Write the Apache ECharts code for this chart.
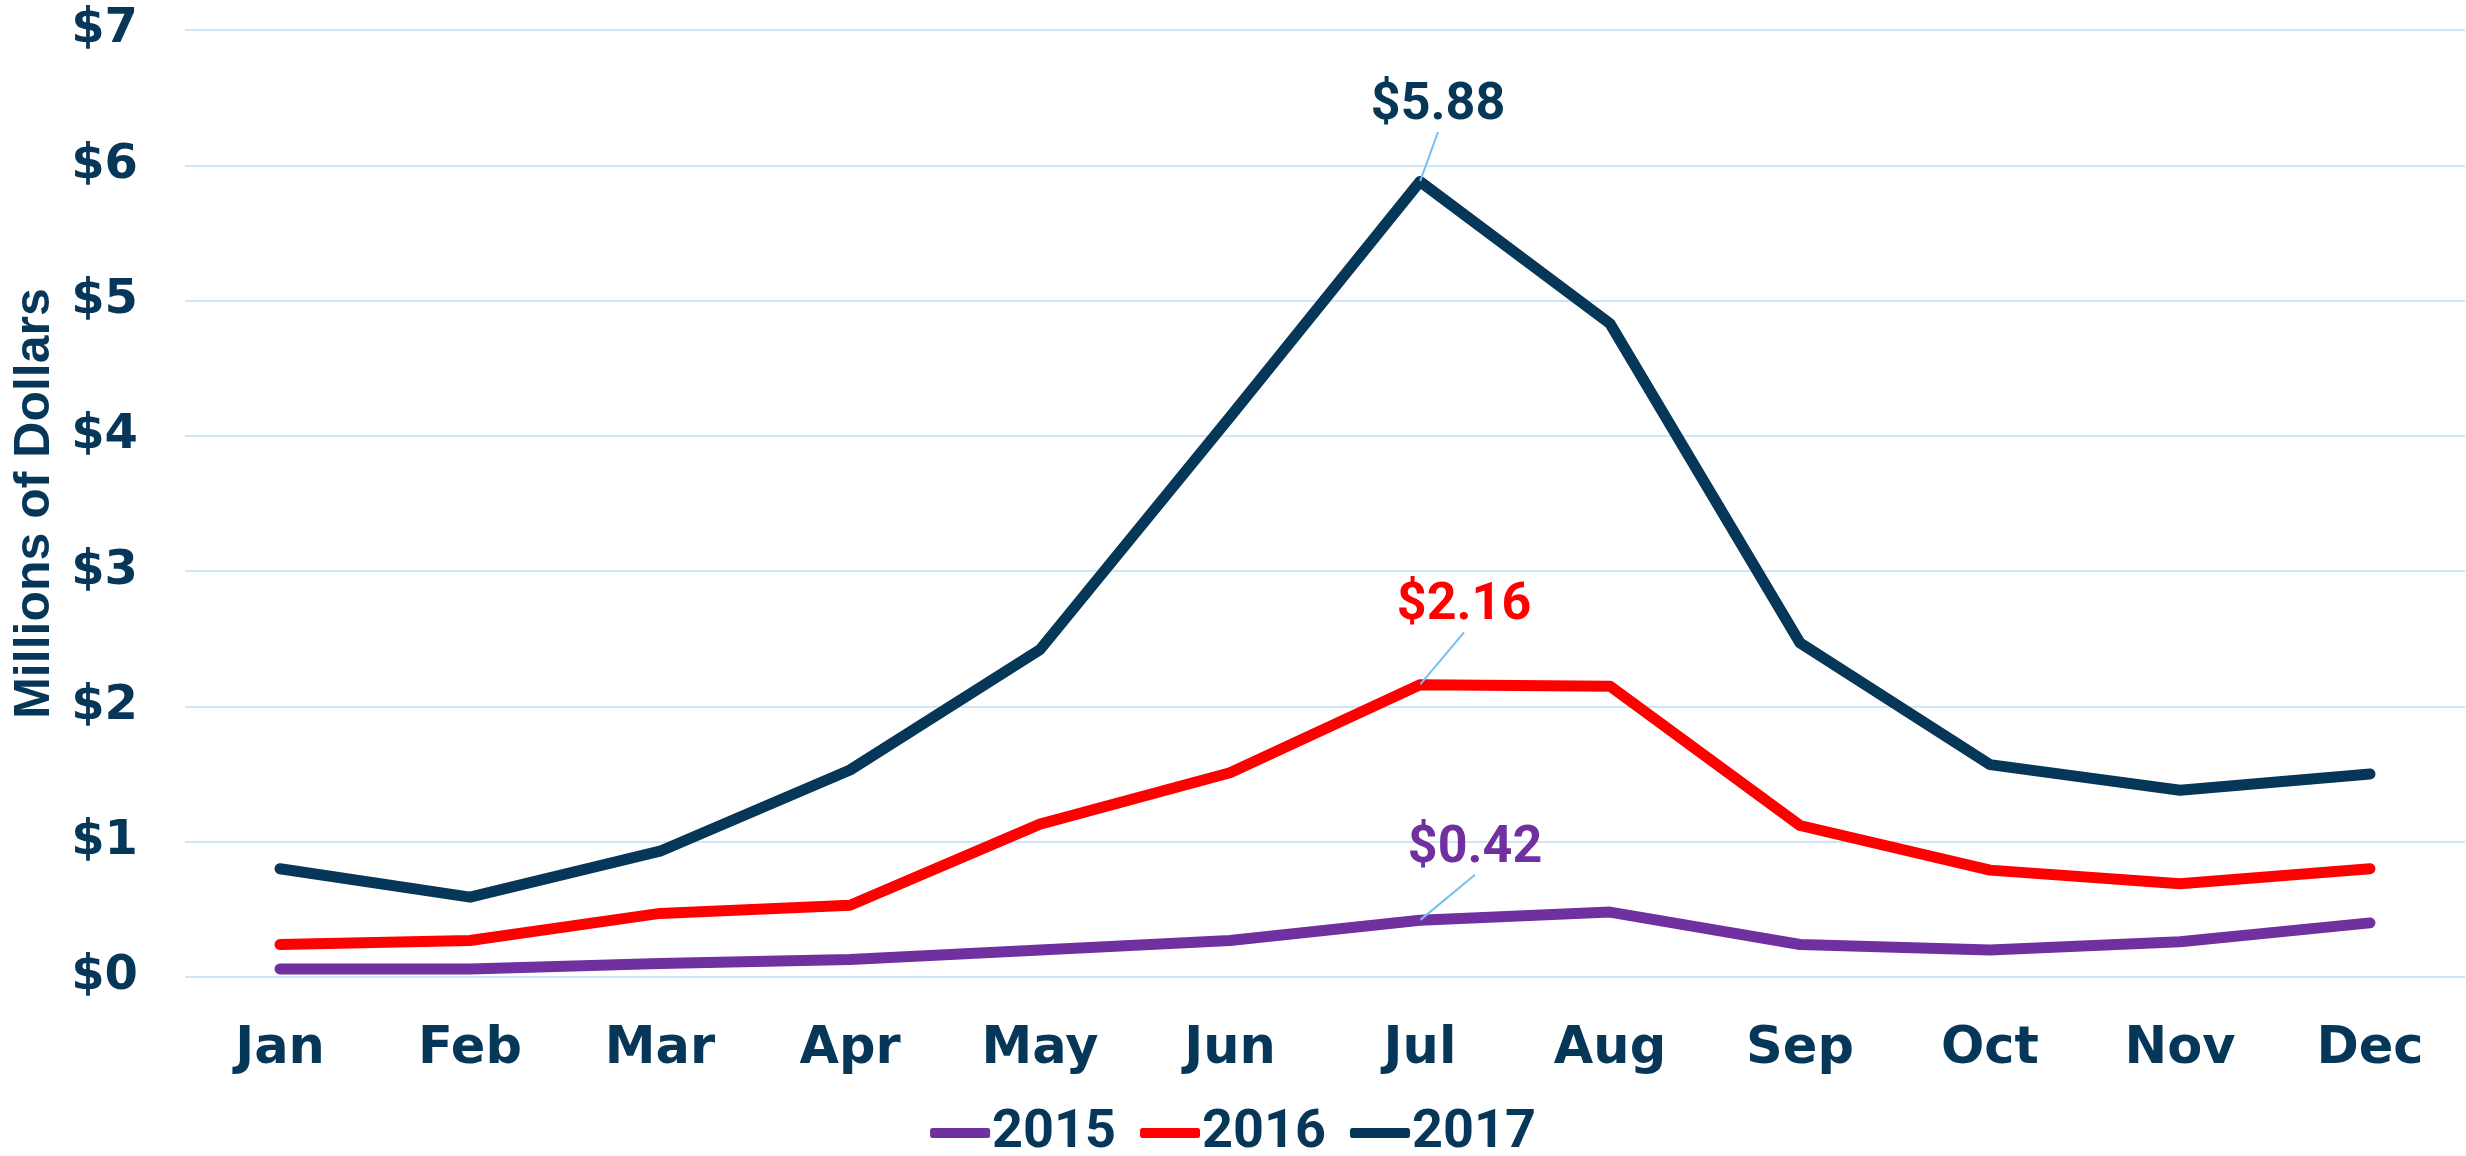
<!DOCTYPE html>
<html>
<head>
<meta charset="utf-8">
<script src="https://cdn.jsdelivr.net/npm/echarts@6/dist/echarts.min.js"></script>
<style>
  html, body { margin: 0; padding: 0; background: #fff; }
  #chart { width: 2466px; height: 1156px; }
</style>
</head>
<body>
<div id="chart"></div>
<script>
const months = ['Jan', 'Feb', 'Mar', 'Apr', 'May', 'Jun', 'Jul', 'Aug', 'Sep', 'Oct', 'Nov', 'Dec']
const sales2015 = [0.06, 0.06, 0.10, 0.13, 0.20, 0.27, 0.42, 0.48, 0.24, 0.20, 0.26, 0.40]
const sales2016 = [0.24, 0.27, 0.47, 0.53, 1.13, 1.51, 2.16, 2.15, 1.12, 0.79, 0.69, 0.80]
const sales2017 = [0.80, 0.59, 0.93, 1.53, 2.42, 4.14, 5.88, 4.83, 2.47, 1.57, 1.38, 1.50]
const peakIndex = 6

const navy = '#063758'
const colors = { '2015': '#7030a0', '2016': '#ff0000', '2017': navy }

// label offsets for the callouts at the July peak
const calloutShift = { '2015': [55, -40], '2016': [44, -47], '2017': [18, -44] }

const makeSeries = (name, values) => ({
  name,
  type: 'line',
  data: values.map((v, i) => i === peakIndex ? {
    value: v,
    label: {
      show: true,
      position: 'top',
      formatter: '$' + v.toFixed(2),
      color: colors[name],
      fontFamily: 'Roboto',
      fontWeight: 'bold',
      fontSize: 52
    },
    labelLine: { show: true, lineStyle: { color: '#74c0f2', width: 2 } }
  } : v),
  symbol: 'circle',
  symbolSize: 1,
  showSymbol: true,
  itemStyle: { color: colors[name] },
  lineStyle: { color: colors[name], width: 11, cap: 'round', join: 'round' },
  labelLayout: (p) => p.dataIndex === peakIndex
    ? { dx: calloutShift[name][0], dy: calloutShift[name][1] }
    : {},
  emphasis: { disabled: true },
  z: name === '2017' ? 3 : name === '2016' ? 2 : 1
})

const chart = echarts.init(document.getElementById('chart'), null, { renderer: 'canvas' })

chart.setOption({
  animation: false,
  backgroundColor: '#ffffff',
  grid: { left: 185, right: 1, top: 30, bottom: 179, outerBoundsMode: 'none' },
  legend: {
    top: 1101,
    left: 'center',
    icon: 'roundRect',
    itemWidth: 60,
    itemHeight: 10,
    itemGap: 24,
    textStyle: {
      color: navy,
      fontFamily: 'Roboto',
      fontWeight: 'bold',
      fontSize: 54,
      padding: [0, 0, 0, -3]
    },
    data: ['2015', '2016', '2017']
  },
  xAxis: {
    type: 'category',
    data: months,
    boundaryGap: true,
    axisLine: { show: false },
    axisTick: { show: false },
    axisLabel: {
      color: navy,
      fontFamily: 'DejaVu Sans',
      fontWeight: 'bold',
      fontSize: 51,
      margin: 47
    }
  },
  yAxis: {
    type: 'value',
    min: 0,
    max: 7,
    interval: 1,
    name: 'Millions of Dollars',
    nameLocation: 'middle',
    nameRotate: 90,
    nameGap: 116,
    nameTextStyle: {
      color: navy,
      fontFamily: 'Liberation Sans',
      fontWeight: 'bold',
      fontSize: 50
    },
    axisLine: { show: false },
    axisTick: { show: false },
    splitLine: { lineStyle: { color: '#cfe6f7', width: 2 } },
    axisLabel: {
      formatter: (v) => '$' + v,
      color: navy,
      fontFamily: 'DejaVu Sans',
      fontWeight: 'bold',
      fontSize: 48,
      margin: 47
    }
  },
  series: [
    makeSeries('2015', sales2015),
    makeSeries('2016', sales2016),
    makeSeries('2017', sales2017)
  ]
})
</script>
</body>
</html>
